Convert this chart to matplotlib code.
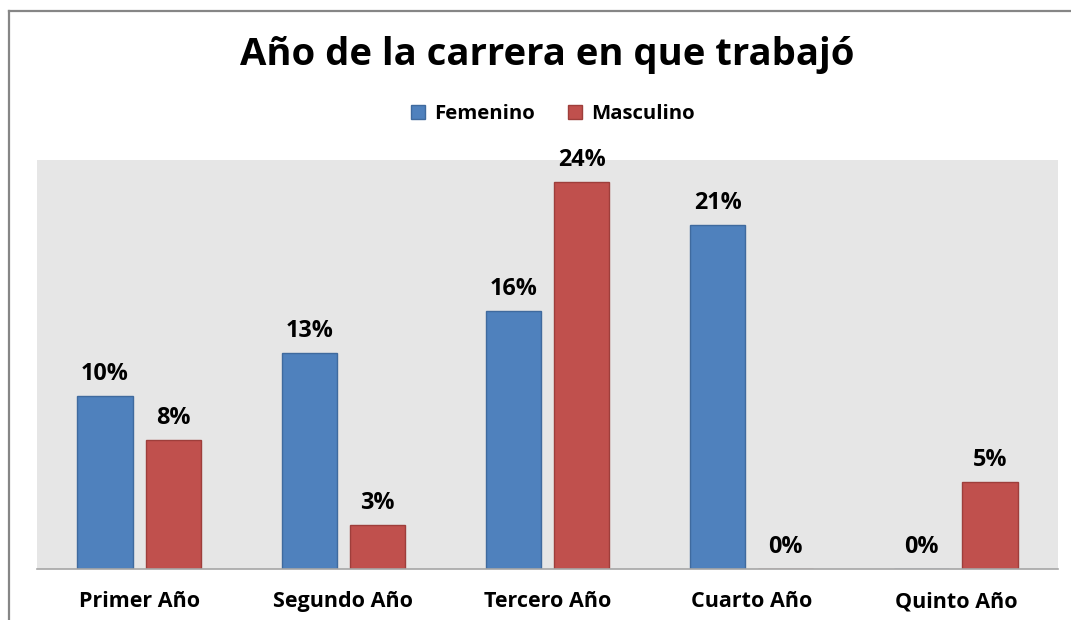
import matplotlib
matplotlib.use("Agg")
import matplotlib.pyplot as plt
from matplotlib.lines import Line2D
from matplotlib.patches import Patch
import numpy as np

plt.rcParams['font.family'] = ['Open Sans', 'DejaVu Sans']

title = "Año de la carrera en que trabajó"
categories = ["Primer Año", "Segundo Año", "Tercero Año", "Cuarto Año", "Quinto Año"]
series_names = ["Femenino", "Masculino"]
femenino = [10.7, 13.4, 16.0, 21.3, 0.0]
masculino = [8.0, 2.7, 24.0, 0.0, 5.4]
femenino_labels = ["10%", "13%", "16%", "21%", "0%"]
masculino_labels = ["8%", "3%", "24%", "0%", "5%"]

blue, blue_edge = "#4F81BD", "#3F6A9E"
red, red_edge = "#C0504D", "#9E3E3B"

W, H = 1071, 620
fig = plt.figure(figsize=(W / 100, H / 100), dpi=100)
ax = fig.add_axes([37 / W, 1 - 569 / H, (1058 - 37) / W, (569 - 160) / H])
ax.set_facecolor("#E6E6E6")

x = np.arange(len(categories))
bw = 0.27
off = 0.167
b1 = ax.bar(x - off, femenino, bw, color=blue, edgecolor=blue_edge, linewidth=1)
b2 = ax.bar(x + off, masculino, bw, color=red, edgecolor=red_edge, linewidth=1)

for bars, labels in ((b1, femenino_labels), (b2, masculino_labels)):
    for rect, lab in zip(bars, labels):
        ax.annotate(lab, (rect.get_x() + rect.get_width() / 2, rect.get_height()),
                    xytext=(0, 11.5), textcoords="offset points",
                    ha="center", va="baseline", fontsize=16.8, fontweight="bold")

ax.set_xlim(-0.5, len(categories) - 0.5)
ax.set_ylim(0, 25.34)
ax.set_yticks([])
ax.set_xticks(x)
ax.set_xticklabels(categories, fontsize=15.5, fontweight="bold")
ax.tick_params(axis="x", length=0, pad=16)
for s in ("top", "right", "left"):
    ax.spines[s].set_visible(False)
ax.spines["bottom"].set_color("#A6A6A6")
ax.spines["bottom"].set_linewidth(1.2)

fig.text(547 / W, 1 - 55 / H, title, ha="center", va="center",
         fontsize=27.5, fontweight="bold")

handles = [Patch(facecolor=blue, edgecolor=blue_edge), Patch(facecolor=red, edgecolor=red_edge)]
fig.legend(handles, series_names, loc="center", bbox_to_anchor=(553 / W, 1 - 114 / H),
           ncol=2, frameon=False, prop={"weight": "bold", "size": 14.7},
           handlelength=0.7, handleheight=0.7, handletextpad=0.45, columnspacing=1.6)

# outer chart border (left and top edges visible)
fig.add_artist(Line2D([9 / W, 9 / W], [0, 1 - 11 / H], transform=fig.transFigure,
                      color="#868686", linewidth=1.6))
fig.add_artist(Line2D([9 / W, 1], [1 - 11 / H, 1 - 11 / H], transform=fig.transFigure,
                      color="#868686", linewidth=1.6))

fig.savefig("out.png", dpi=100)
